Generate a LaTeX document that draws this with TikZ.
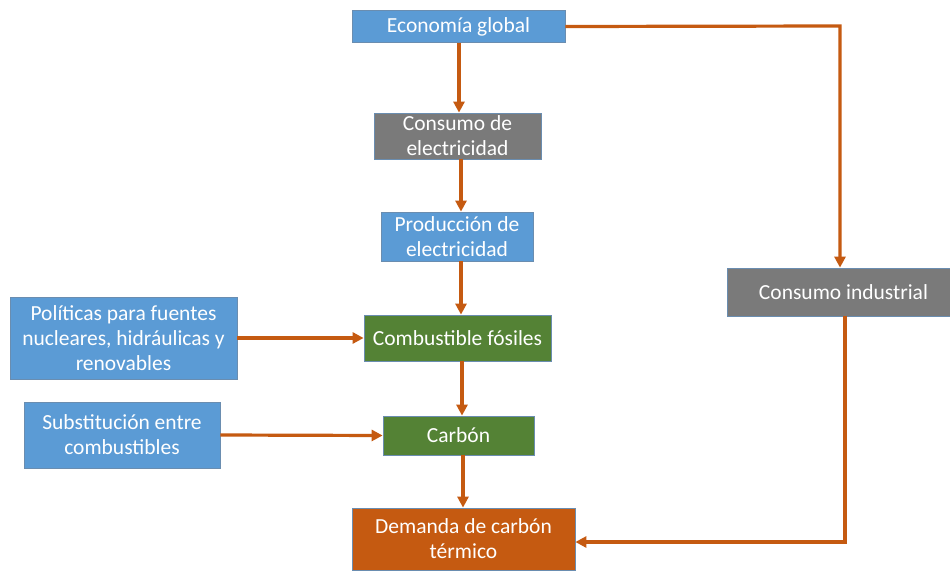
\documentclass[tikz,border=0pt]{standalone}
\usepackage{fontspec}
\setmainfont{Carlito}
\usetikzlibrary{arrows.meta}
\definecolor{cblue}{HTML}{5B9BD5}
\definecolor{cgray}{HTML}{7A7A7A}
\definecolor{cgreen}{HTML}{548235}
\definecolor{corange}{HTML}{C55A11}
\definecolor{cedge}{HTML}{6A8DB0}
\begin{document}
\begin{tikzpicture}[x=1pt,y=-1pt,
  box/.style={draw=cedge,line width=0.8pt,text=white,align=center,inner sep=0pt,
    font=\fontsize{21.5}{25}\selectfont},
  bluebox/.style={box,fill=cblue},
  graybox/.style={box,fill=cgray},
  greenbox/.style={box,fill=cgreen},
  orangebox/.style={box,fill=corange},
  link/.style={draw=corange,line width=3.2pt,-{Triangle[length=11pt,width=11pt]}}]
\useasboundingbox[fill=white] (0,0) rectangle (950,572);
\node[bluebox,minimum width=213pt,minimum height=32pt] (eco) at (458.5,26.5) {Economía global};
\node[graybox,minimum width=167pt,minimum height=46pt] (cons) at (457.5,136) {Consumo de\\electricidad};
\node[bluebox,minimum width=152pt,minimum height=49pt] (prod) at (457,236.5) {Producción de\\electricidad};
\node[greenbox,minimum width=187pt,minimum height=46pt] (comb) at (457.5,338) {Combustible fósiles};
\node[greenbox,minimum width=151pt,minimum height=39pt] (carb) at (458.5,435.5) {Carbón};
\node[orangebox,minimum width=223pt,minimum height=62pt] (dem) at (463.5,539) {Demanda de carbón\\térmico};
\node[bluebox,minimum width=227pt,minimum height=82pt] (pol) at (123.5,338) {Políticas para fuentes\\nucleares, hidráulicas y\\renovables};
\node[bluebox,minimum width=196pt,minimum height=66pt] (sub) at (122,435) {Substitución entre\\combustibles};
\node[graybox,minimum width=223pt,minimum height=48pt] (ind) at (838.5,292) {\hspace*{10pt}Consumo industrial};
\coordinate (c1) at (840,26);
\coordinate (c2) at (845,542);
\draw[link] (eco.south -| 459,0) -- (cons.north -| 459,0);
\draw[link] (cons.south -| 461,0) -- (prod.north -| 461,0);
\draw[link] (prod.south -| 461,0) -- (comb.north -| 461,0);
\draw[link] (comb.south -| 462,0) -- (carb.north -| 462,0);
\draw[link] (carb.south -| 463,0) -- (dem.north -| 463,0);
\draw[link] (pol.east) -- (comb.west);
\draw[link] (sub.east) -- (carb.west);
\draw[link] (eco.east) -- (c1) -- (ind.north -| c1);
\draw[link] (ind.south -| c2) -- (c2) -- (dem.east |- c2);
\end{tikzpicture}
\end{document}
